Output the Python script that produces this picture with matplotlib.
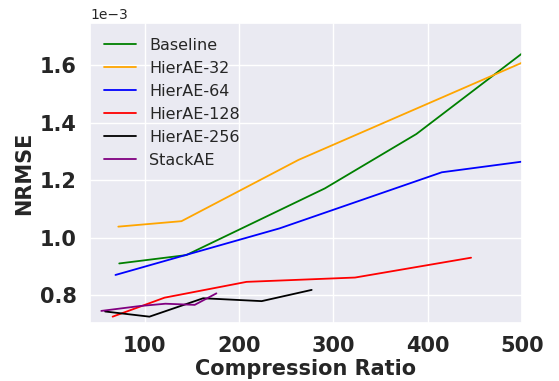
import matplotlib
matplotlib.use("Agg")
import matplotlib.pyplot as plt
import seaborn as sns

sns.set_theme(style="darkgrid")
plt.rcParams['font.family'] = ['DejaVu Sans']

baseline_x = [73, 144, 291, 388, 500]
baseline_y = [0.910, 0.939, 1.171, 1.360, 1.640]

h32_x = [72, 139, 263, 500]
h32_y = [1.038, 1.057, 1.270, 1.608]

h64_x = [69, 243, 415, 500]
h64_y = [0.870, 1.032, 1.227, 1.264]

h128_x = [66, 121, 208, 323, 446]
h128_y = [0.725, 0.791, 0.846, 0.861, 0.930]

h256_x = [58, 105, 162, 224, 277]
h256_y = [0.743, 0.725, 0.789, 0.779, 0.818]

stack_x = [54, 95, 122, 153, 176]
stack_y = [0.745, 0.762, 0.770, 0.766, 0.806]

series = [
    ("Baseline", baseline_x, baseline_y, "green"),
    ("HierAE-32", h32_x, h32_y, "orange"),
    ("HierAE-64", h64_x, h64_y, "blue"),
    ("HierAE-128", h128_x, h128_y, "red"),
    ("HierAE-256", h256_x, h256_y, "black"),
    ("StackAE", stack_x, stack_y, "purple"),
]

fig = plt.figure(figsize=(5.59, 3.81), dpi=100)
ax = fig.add_axes([90/559, 1 - 322.7/381, (522 - 90)/559, (322.7 - 23.3)/381])

for label, xs, ys, c in series:
    ax.plot(xs, [v * 1e-3 for v in ys], color=c, label=label, linewidth=1.3)

ax.set_xlim(42, 500)
ax.set_ylim(0.704e-3, 1.745e-3)
ax.set_xticks([100, 200, 300, 400, 500])
ax.set_yticks([0.8e-3, 1.0e-3, 1.2e-3, 1.4e-3, 1.6e-3])
ax.ticklabel_format(axis='y', style='sci', scilimits=(-3, -3))
ax.yaxis.get_offset_text().set_fontsize(10)

for lbl in ax.get_xticklabels() + ax.get_yticklabels():
    lbl.set_fontsize(15)
    lbl.set_fontweight('bold')

ax.set_xlabel("Compression Ratio", fontsize=15, fontweight='bold', labelpad=2)
ax.set_ylabel("NRMSE", fontsize=15, fontweight='bold')

ax.legend(loc="upper left", frameon=False, fontsize=11.5)

fig.savefig("out.png", dpi=100)
